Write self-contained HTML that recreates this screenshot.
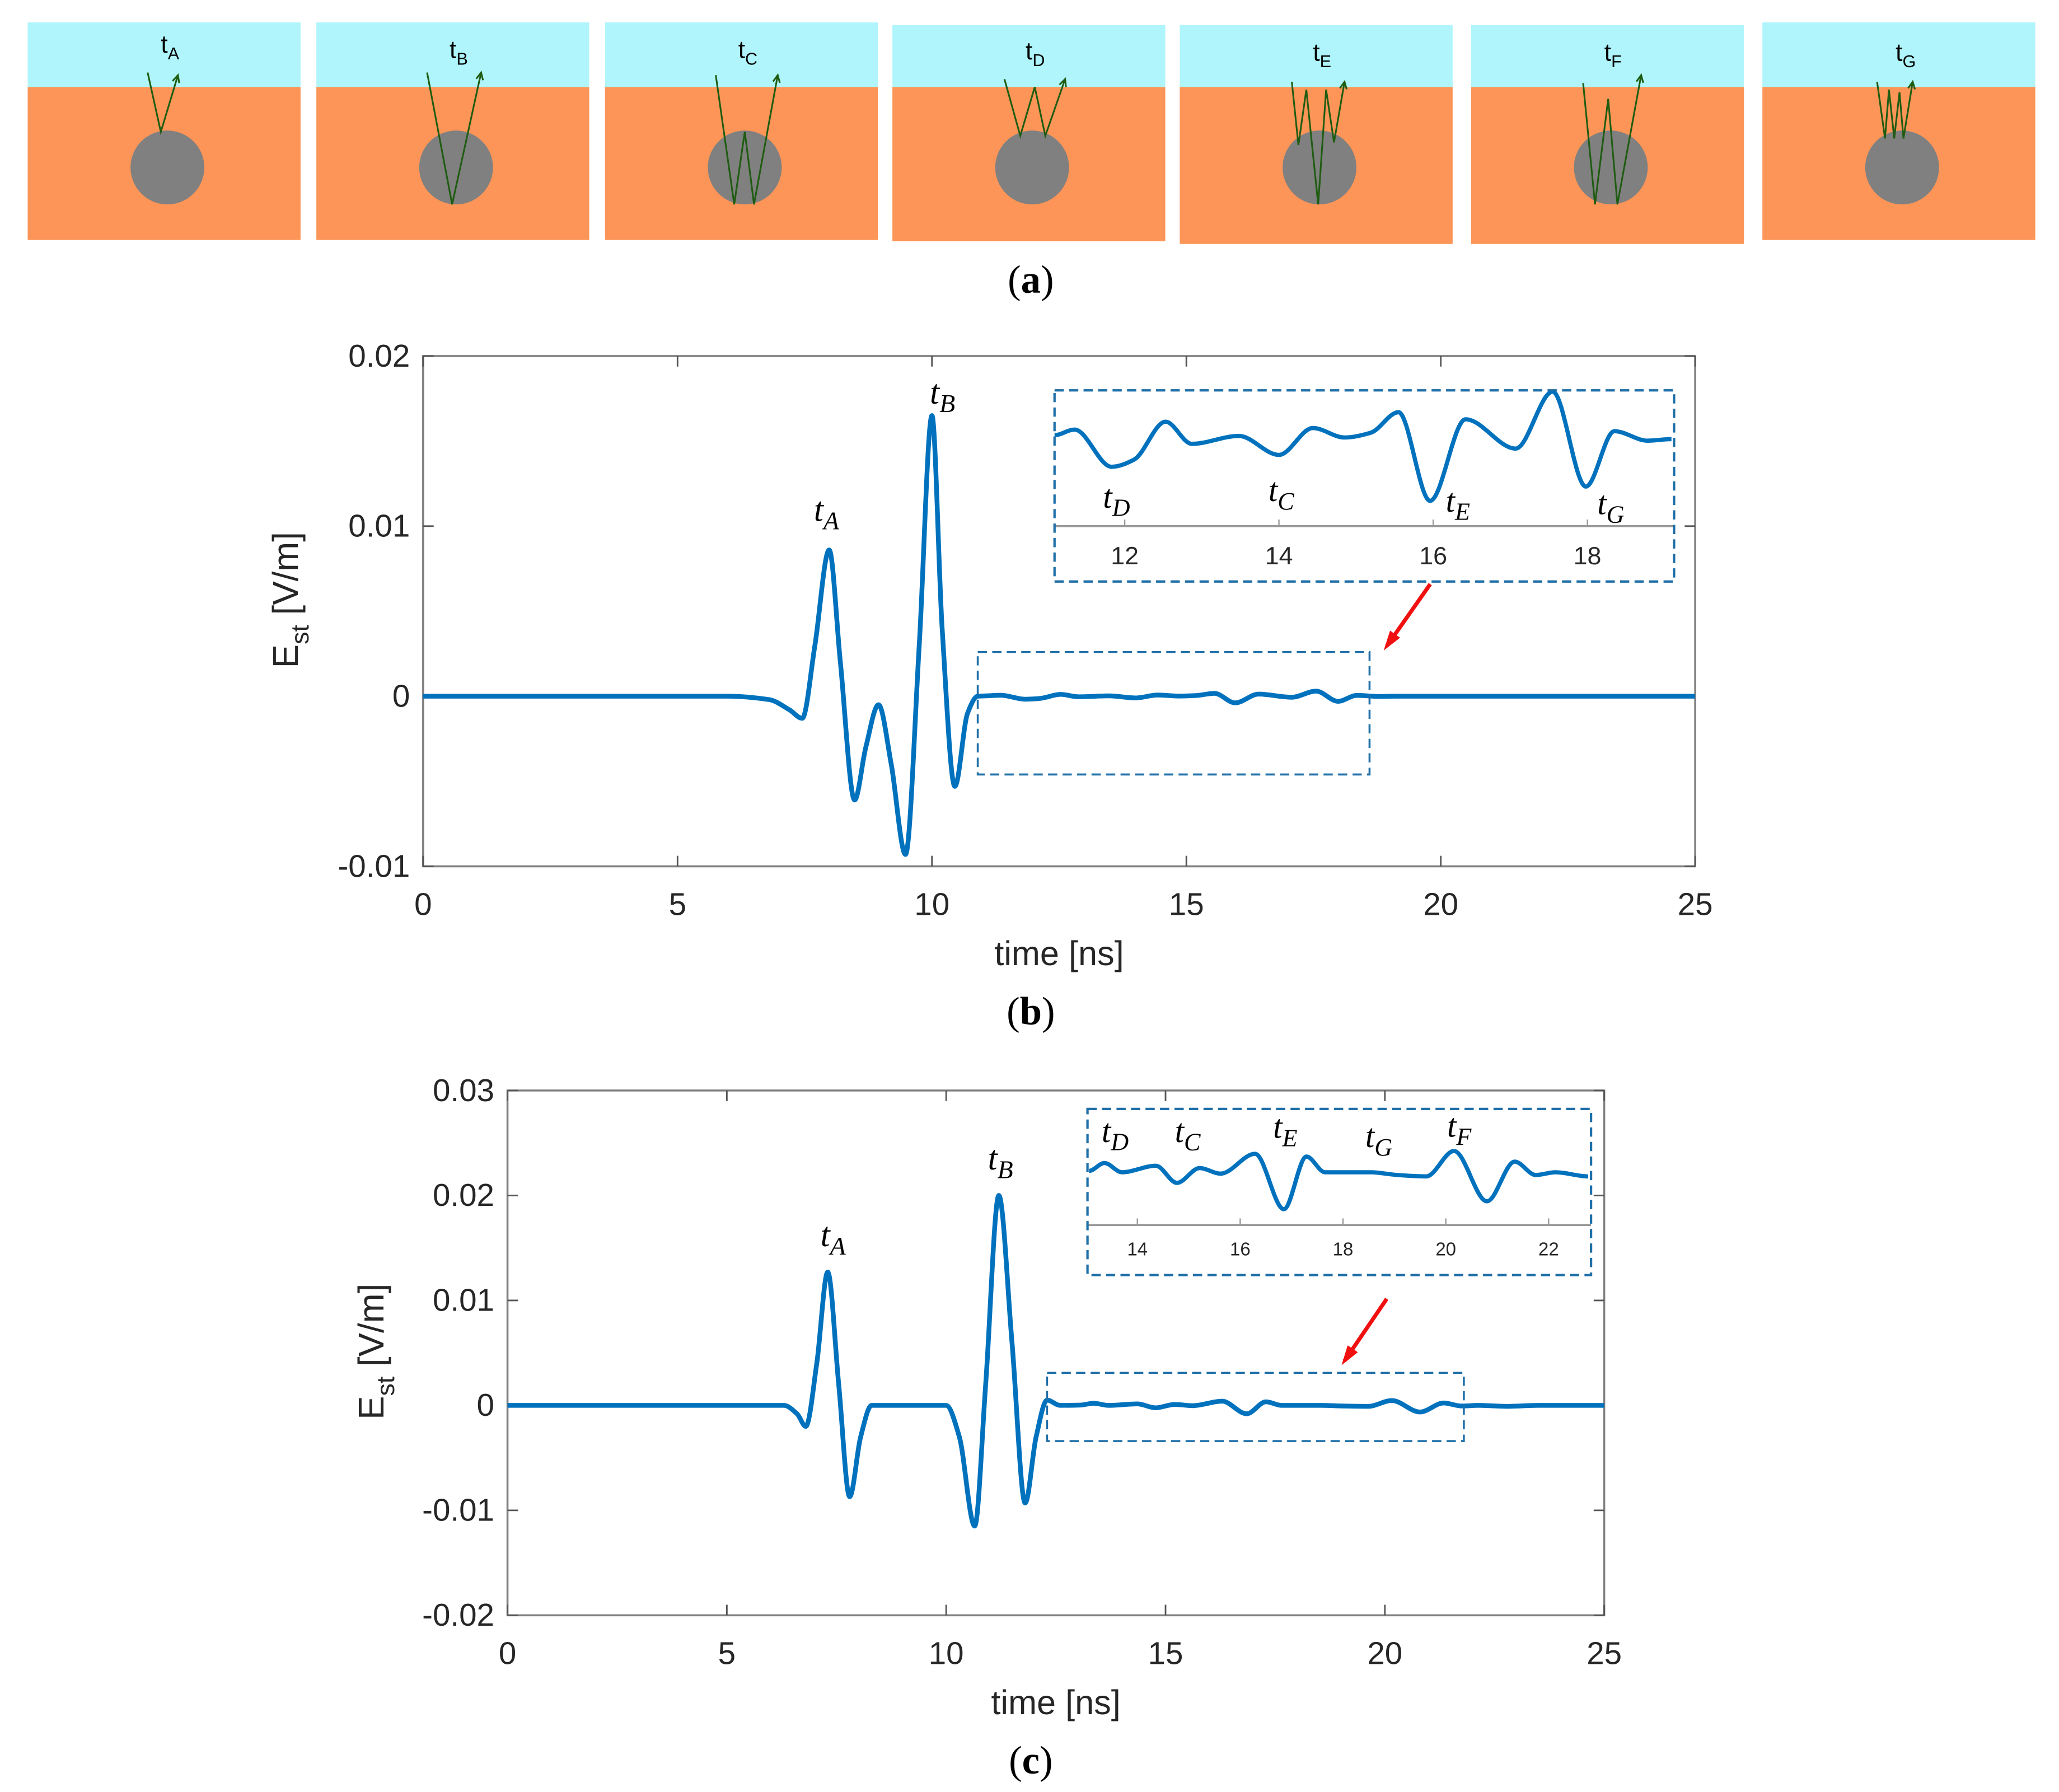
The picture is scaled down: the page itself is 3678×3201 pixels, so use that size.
<!DOCTYPE html>
<html><head><meta charset="utf-8"><style>
html,body{margin:0;padding:0;background:#fff;}
svg{display:block;}
text{font-family:"Liberation Sans",Arial,sans-serif;}
.ser{font-family:"Liberation Serif","Times New Roman",serif;}
</style></head><body>
<svg id="fig" width="3678" height="3201" viewBox="0 0 1562 1359" preserveAspectRatio="none" xmlns="http://www.w3.org/2000/svg">
<g id="panelA"></g>
<g id="panelB"></g>
<g id="panelC"></g>
</svg>
<script>
// ---------- Panel (b) data ----------
const timesB = [0,6.0,6.8,7.2,7.45,7.7,7.98,8.2,8.48,8.7,8.95,9.2,9.48,9.75,10.0,10.2,10.45,10.7,10.9,
 11.09,11.35,11.83,12.12,12.53,12.87,13.48,14.0,14.44,14.85,15.19,15.55,15.96,16.42,17.07,17.55,17.98,18.35,18.78,19.09,20,25];
const valuesB = [0,0,-0.0002,-0.0008,-0.0013,0.003,0.0086,0.002,-0.0061,-0.003,-0.0005,-0.004,-0.0093,0.003,0.0165,0.004,-0.0053,-0.001,0,
 0.000025,0.00006,-0.000175,-0.00013,0.00011,-0.00003,0.00002,-0.0001,0.00007,0.00001,0.00004,0.00017,-0.00039,0.000125,-0.00006,0.0003,-0.0003,0.00005,-0.00001,0,0,0];
const xTicksB = [0,5,10,15,20,25];
const yTicksB = [-0.01,0,0.01,0.02];
const yTickLabelsB = ["-0.01","0","0.01","0.02"];
const insetTicksB = [12,14,16,18];
// ---------- Panel (c) data ----------
const timesC = [0,6.3,6.6,6.8,7.05,7.3,7.55,7.8,8.05,8.3,9.0,9.7,10.0,10.3,10.65,10.9,11.2,11.5,11.8,12.05,12.3,
 12.6,13.06,13.36,13.70,14.36,14.77,15.21,15.62,16.29,16.85,17.29,17.65,18.54,19.06,19.62,20.16,20.8,21.34,21.75,22.13,22.77,23.5,25];
const valuesC = [0,0,-0.0008,-0.002,0.004,0.0127,0.002,-0.0087,-0.003,0,0,0,0,-0.003,-0.0115,0.002,0.020,0.006,-0.0093,-0.003,0.0005,
 0,0.00003,0.0002,0,0.00014,-0.00023,0.00009,-0.00003,0.0004,-0.0008,0.00034,0,0,-0.00006,-0.00009,0.00046,-0.00063,0.00023,-0.00006,0,-0.00009,0,0];
const xTicksC = [0,5,10,15,20,25];
const yTicksC = [-0.02,-0.01,0,0.01,0.02,0.03];
const yTickLabelsC = ["-0.02","-0.01","0","0.01","0.02","0.03"];
const insetTicksC = [14,16,18,20,22];

const NS="http://www.w3.org/2000/svg";
function el(parent,tag,attrs,txt){const e=document.createElementNS(NS,tag);for(const k in attrs)e.setAttribute(k,attrs[k]);if(txt!==undefined)e.textContent=txt;parent.appendChild(e);return e;}
// x-parametrised cubic Hermite (no loops)
function smoothPath(pts){
  const n=pts.length, m=[];
  for(let i=0;i<n;i++){
    if(i===0||i===n-1){m.push(0);continue;}
    const s1=(pts[i][1]-pts[i-1][1])/(pts[i][0]-pts[i-1][0]);
    const s2=(pts[i+1][1]-pts[i][1])/(pts[i+1][0]-pts[i][0]);
    if(s1*s2<=0) m.push(0); else m.push(2/(1/s1+1/s2));
  }
  let d="M"+pts[0][0].toFixed(2)+","+pts[0][1].toFixed(2);
  for(let i=0;i<n-1;i++){
    const dx=pts[i+1][0]-pts[i][0];
    const c1=[pts[i][0]+dx/3,pts[i][1]+m[i]*dx/3];
    const c2=[pts[i+1][0]-dx/3,pts[i+1][1]-m[i+1]*dx/3];
    d+="C"+c1[0].toFixed(2)+","+c1[1].toFixed(2)+" "+c2[0].toFixed(2)+","+c2[1].toFixed(2)+" "+pts[i+1][0].toFixed(2)+","+pts[i+1][1].toFixed(2);
  }
  return d;
}
function tLabel(g,x,y,sub,size,name){
  const t=el(g,"text",{x:x,y:y,"font-size":size,"font-style":"italic","class":"ser","text-anchor":"middle"});
  
  
  const a=document.createElementNS(NS,"tspan");a.textContent="t";t.appendChild(a);
  const b=document.createElementNS(NS,"tspan");b.textContent=sub;b.setAttribute("dy",size*0.25);b.setAttribute("font-size",size*0.75);t.appendChild(b);
}

// ---------- Panel (a) ----------
(function(){
  const g=document.getElementById("panelA");
  const panels=[
    {x:21,top:17,bot:182,lab:"A",ly:40,ray:[[112,55],[122,100],[135,57]]},
    {x:240,top:17,bot:182,lab:"B",ly:44,ray:[[324,55],[343,155],[365,55]]},
    {x:459,top:17,bot:182,lab:"C",ly:44,ray:[[543,57],[557,155],[565,100],[572,155],[590,57]]},
    {x:677,top:19,bot:183,lab:"D",ly:45,ray:[[762,60],[774,103],[785,66],[793,103],[808,60]]},
    {x:895,top:19,bot:185,lab:"E",ly:46,ray:[[980,62],[985,110],[991,68],[1000,155],[1006,68],[1012,108],[1020,62]]},
    {x:1116,top:19,bot:185,lab:"F",ly:46,ray:[[1201,63],[1210,155],[1220,75],[1227,155],[1245,57]]},
    {x:1337,top:17,bot:182,lab:"G",ly:46,ray:[[1424,62],[1430,105],[1433,68],[1437,105],[1441,70],[1444,105],[1451,62]]}
  ];
  panels.forEach((p,i)=>{
    const pg=el(g,"g",{});
    
    
    el(pg,"rect",{x:p.x,y:p.top,width:207,height:49,fill:"#aff5fb"});
    el(pg,"rect",{x:p.x,y:66,width:207,height:p.bot-66,fill:"#fc9557"});
    el(pg,"circle",{cx:p.x+106,cy:127,r:28,fill:"#808080"});
    el(pg,"polyline",{points:p.ray.map(q=>q.join(",")).join(" "),fill:"none",stroke:"#1f5c12","stroke-width":1.3});
    const last=p.ray[p.ray.length-1],prev=p.ray[p.ray.length-2];
    const ang=Math.atan2(last[1]-prev[1],last[0]-prev[0]);
    const L=6;
    el(pg,"polyline",{points:[last[0]-L*Math.cos(ang-0.45),last[1]-L*Math.sin(ang-0.45),last[0],last[1],last[0]-L*Math.cos(ang+0.45),last[1]-L*Math.sin(ang+0.45)].join(","),fill:"none",stroke:"#1f5c12","stroke-width":1.3});
    const t=el(pg,"text",{x:p.x+101,y:p.ly,"font-size":19});
    
    
    const a=document.createElementNS(NS,"tspan");a.textContent="t";t.appendChild(a);
    const b=document.createElementNS(NS,"tspan");b.textContent=p.lab;b.setAttribute("dy",5);b.setAttribute("font-size",13);t.appendChild(b);
  });
  const c=el(g,"text",{x:782,y:222,"font-size":30,"text-anchor":"middle","class":"ser"});
  
  
  c.innerHTML='(<tspan font-weight="bold">a</tspan>)';
})();

function drawChart(cfg){
  const g=document.getElementById(cfg.id);
  const X=t=>cfg.x0+(t-cfg.tmin)/(cfg.tmax-cfg.tmin)*(cfg.x1-cfg.x0);
  const Y=v=>cfg.y1-(v-cfg.vmin)/(cfg.vmax-cfg.vmin)*(cfg.y1-cfg.y0);
  const box=el(g,"rect",{x:cfg.x0,y:cfg.y0,width:cfg.x1-cfg.x0,height:cfg.y1-cfg.y0,fill:"none",stroke:"#808080","stroke-width":1.5});
  
  
  cfg.xTicks.forEach(t=>{
    el(g,"line",{x1:X(t),x2:X(t),y1:cfg.y1,y2:cfg.y1-8,stroke:"#555","stroke-width":1.2});
    el(g,"line",{x1:X(t),x2:X(t),y1:cfg.y0,y2:cfg.y0+8,stroke:"#555","stroke-width":1.2});
    const tx=el(g,"text",{x:X(t),y:cfg.y1+37,"font-size":24,"text-anchor":"middle",fill:"#262626"},String(t));
    
    
  });
  cfg.yTicks.forEach((v,i)=>{
    el(g,"line",{x1:cfg.x0,x2:cfg.x0+8,y1:Y(v),y2:Y(v),stroke:"#555","stroke-width":1.2});
    el(g,"line",{x1:cfg.x1,x2:cfg.x1-8,y1:Y(v),y2:Y(v),stroke:"#555","stroke-width":1.2});
    const ty=el(g,"text",{x:cfg.x0-10,y:Y(v)+8,"font-size":24,"text-anchor":"end",fill:"#262626"},cfg.yLabels[i]);
    
    
  });
  const xt=el(g,"text",{x:(cfg.x0+cfg.x1)/2,y:cfg.y1+75,"font-size":26,"text-anchor":"middle",fill:"#262626"},"time [ns]");
  
  
  const yt=el(g,"text",{x:0,y:0,"font-size":27,"text-anchor":"middle",fill:"#262626",transform:"translate("+cfg.ylx+","+cfg.yly+") rotate(-90)"});
  
  
  yt.innerHTML='E<tspan font-size="19" dy="8">st</tspan><tspan dy="-8"> [V/m]</tspan>';
  const pts=cfg.times.map((t,i)=>[X(t),Y(cfg.values[i])]);
  const s=el(g,"path",{d:smoothPath(pts),fill:"none",stroke:"#0072bd","stroke-width":3.6,"stroke-linejoin":"round"});
  
  
  const zb=el(g,"rect",{x:X(cfg.zoom[0]),y:Y(cfg.zoom[3]),width:X(cfg.zoom[1])-X(cfg.zoom[0]),height:Y(cfg.zoom[2])-Y(cfg.zoom[3]),fill:"none",stroke:"#1f6fa8","stroke-width":1.5,"stroke-dasharray":"7,4"});
  
  
  const I=cfg.inset;
  const IX=t=>I.x0+(t-I.tmin)*I.pxPerNs;
  const IY=v=>I.base-v*I.pxPerV;
  const ig=el(g,"g",{});
  
  
  el(ig,"line",{x1:I.x0,x2:I.x1,y1:I.axisY,y2:I.axisY,stroke:"#999","stroke-width":1.5});
  I.ticks.forEach(t=>{
    el(ig,"line",{x1:IX(t),x2:IX(t),y1:I.axisY,y2:I.axisY-5,stroke:"#999","stroke-width":1});
    const tl=el(ig,"text",{x:IX(t),y:I.axisY+I.tickDy,"font-size":I.tickSize,"text-anchor":"middle",fill:"#262626"},String(t));
    
    
  });
  const ipts=[];
  cfg.times.forEach((t,i)=>{ if(t>=I.tmin-0.01 && t<=I.tmax+0.01) ipts.push([IX(t),IY(cfg.values[i])]); });
  const ip=el(ig,"path",{d:smoothPath(ipts),fill:"none",stroke:"#0072bd","stroke-width":3.2});
  
  
  const ib=el(ig,"rect",{x:I.x0,y:I.y0,width:I.x1-I.x0,height:I.y1-I.y0,fill:"none",stroke:"#1f6fa8","stroke-width":1.8,"stroke-dasharray":"7,4"});
  
  
  cfg.labels.forEach(l=>tLabel(g,l[0],l[1],l[2],l[3],'event-label-'+l[2].toLowerCase()));
  const ar=cfg.arrow;
  const arr=el(g,"line",{x1:ar[0],y1:ar[1],x2:ar[2],y2:ar[3],stroke:"#f01010","stroke-width":3});
  
  
  const ang=Math.atan2(ar[3]-ar[1],ar[2]-ar[0]);
  el(g,"polygon",{points:[ar[2]+4*Math.cos(ang),ar[3]+4*Math.sin(ang),ar[2]-12*Math.cos(ang-0.4),ar[3]-12*Math.sin(ang-0.4),ar[2]-12*Math.cos(ang+0.4),ar[3]-12*Math.sin(ang+0.4)].join(","),fill:"#f01010"});
  const cap=el(g,"text",{x:782,y:cfg.capY,"font-size":30,"text-anchor":"middle","class":"ser"});
  
  
  cap.innerHTML='(<tspan font-weight="bold">'+cfg.cap+'</tspan>)';
}

drawChart({id:"panelB",x0:321,x1:1286,y0:270,y1:657,tmin:0,tmax:25,vmin:-0.01,vmax:0.02,
  xTicks:xTicksB,yTicks:yTicksB,yLabels:yTickLabelsB,times:timesB,values:valuesB,ylx:226,yly:455,
  zoom:[10.9,18.6,-0.0046,0.0026],
  inset:{x0:800,x1:1270,y0:296,y1:441,axisY:399,tmin:11.09,tmax:19.1,pxPerNs:58.5,base:333,pxPerV:120000,ticks:insetTicksB,tickDy:29,tickSize:19},
  labels:[[627,395,"A",26],[715,306,"B",26],[847,385,"D",25],[972,380,"C",25],[1106,388,"E",25],[1222,390,"G",25]],
  arrow:[1085,443,1052,490],capY:777,cap:"b"});

drawChart({id:"panelC",x0:385,x1:1217,y0:827,y1:1225,tmin:0,tmax:25,vmin:-0.02,vmax:0.03,
  xTicks:xTicksC,yTicks:yTicksC,yLabels:yTickLabelsC,times:timesC,values:valuesC,ylx:291,yly:1025,
  zoom:[12.3,21.8,-0.0034,0.0031],
  inset:{x0:825,x1:1207,y0:841,y1:967,axisY:929,tmin:13.03,tmax:22.82,pxPerNs:39,base:889,pxPerV:35000,ticks:insetTicksC,tickDy:23,tickSize:14},
  labels:[[632,945,"A",26],[759,887,"B",26],[846,866,"D",25],[901,866,"C",25],[975,863,"E",25],[1046,870,"G",25],[1107,862,"F",25]],
  arrow:[1052,985,1020,1032],capY:1345,cap:"c"});
</script>
</body></html>
